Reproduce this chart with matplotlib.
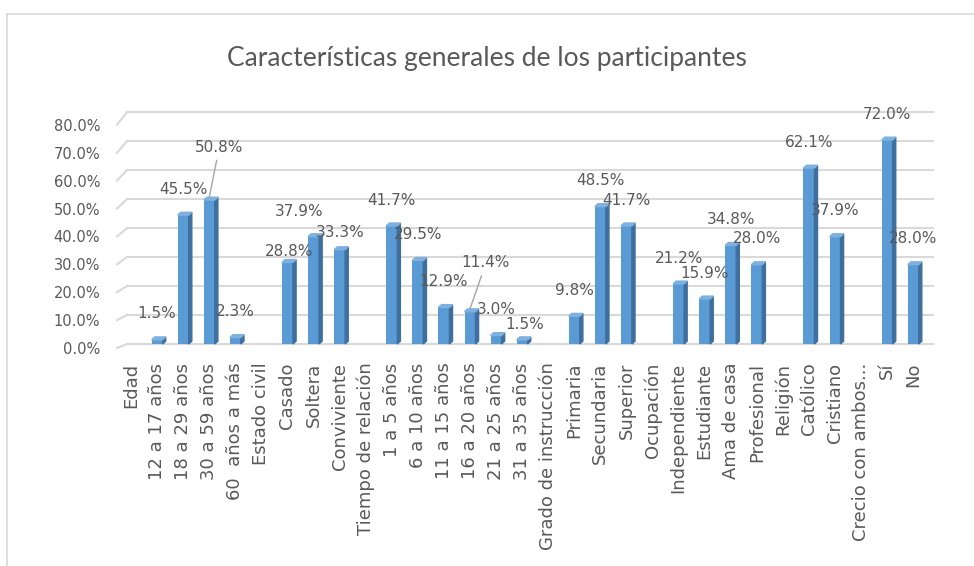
import numpy as np
import matplotlib.pyplot as plt
from matplotlib.patches import Polygon
from matplotlib.lines import Line2D

categorias = ["Edad", "12 a 17 años", "18 a 29 años", "30 a 59 años", "60  años a más",
              "Estado civil", "Casado", "Soltera", "Conviviente",
              "Tiempo de relación", "1 a 5 años", "6 a 10 años", "11 a 15 años",
              "16 a 20 años", "21 a 25 años", "31 a 35 años",
              "Grado de instrucción", "Primaria", "Secundaria", "Superior",
              "Ocupación", "Independiente", "Estudiante", "Ama de casa", "Profesional",
              "Religión", "Católico", "Cristiano",
              "Crecio con ambos...", "Sí", "No"]
porcentajes = [None, 1.5, 45.5, 50.8, 2.3,
               None, 28.8, 37.9, 33.3,
               None, 41.7, 29.5, 12.9, 11.4, 3.0, 1.5,
               None, 9.8, 48.5, 41.7,
               None, 21.2, 15.9, 34.8, 28.0,
               None, 62.1, 37.9,
               None, 72.0, 28.0]
ticks_y = [0, 10, 20, 30, 40, 50, 60, 70, 80]

gris = "#595959"
azul = "#5B9BD5"
azul_lado = "#3E6F9E"
azul_tope = "#7EB1E0"

fig = plt.figure(figsize=(9.74, 5.66), dpi=100)
ax = fig.add_axes([0.1185, 0.3717, 0.959 - 0.1185, 0.8127 - 0.3717])

# marco del grafico
fig.add_artist(Line2D([0.0072, 0.0072], [0, 0.9753], color="#D9D9D9", lw=1.2))
fig.add_artist(Line2D([0.0072, 1], [0.9753, 0.9753], color="#D9D9D9", lw=1.2))

fig.text(0.5, 0.8975, "Características generales de los participantes",
         ha="center", va="center", fontsize=19, color=gris,
         family=["Lato", "DejaVu Sans"])

x = np.arange(len(categorias))
vals = np.array([np.nan if v is None else v for v in porcentajes])

# cuadricula con efecto 3D: pared del fondo y borde lateral izquierdo
def fondo(t):
    return t * 1.024

def frente(t):
    return t * 0.984 - 1.4

for t in ticks_y:
    ax.plot([-0.15, 30.76], [fondo(t), fondo(t)], color="#D9D9D9", lw=1.5, zorder=1)
    ax.plot([-0.54, -0.15], [frente(t), fondo(t)], color="#D9D9D9", lw=1.5, zorder=1)

w = 0.42
dx, dy = 0.12, 1.0
barras = ax.bar(x, np.nan_to_num(vals), width=w, color=azul, zorder=3)
for b, v in zip(barras, vals):
    if np.isnan(v):
        b.set_visible(False)
        continue
    x0, x1 = b.get_x(), b.get_x() + b.get_width()
    lado = Polygon([(x1, 0), (x1 + dx, dy), (x1 + dx, v + dy), (x1, v)],
                   closed=True, color=azul_lado, zorder=3)
    tope = Polygon([(x0, v), (x0 + dx, v + dy), (x1 + dx, v + dy), (x1, v)],
                   closed=True, color=azul_tope, zorder=3)
    ax.add_patch(lado)
    ax.add_patch(tope)

# desplazamientos de etiquetas (pixeles) como en el original
ajustes = {3: (10, 50), 6: (2, 8), 7: (-14, 22), 8: (1, 14), 13: (16, 46), 15: (3, 12)}
con_linea = {3, 13}
for i, v in enumerate(vals):
    if np.isnan(v):
        continue
    ox, oy = ajustes.get(i, (0, 23))
    props = None
    if i in con_linea:
        props = dict(arrowstyle="-", color="#A6A6A6", lw=1, shrinkA=2, shrinkB=0)
    ax.annotate(f"{v:.1f}%", xy=(i, v + dy), xytext=(ox, oy), textcoords="offset pixels",
                ha="center", va="center", fontsize=11, color=gris, zorder=5,
                arrowprops=props)

ax.set_xlim(-0.6, 30.8)
ax.set_ylim(-4.1, 84)
ax.set_yticks([frente(t) for t in ticks_y])
ax.set_yticklabels([f"{t:.1f}%" for t in ticks_y], fontsize=10.5, color=gris)
ax.set_xticks(x)
ax.set_xticklabels(categorias, rotation=90, fontsize=13, color=gris)
ax.tick_params(axis="both", length=0)
ax.tick_params(axis="y", pad=11)
ax.tick_params(axis="x", pad=5)
for s in ax.spines.values():
    s.set_visible(False)
ax.patch.set_alpha(0)

fig.savefig("out.png", dpi=100)
